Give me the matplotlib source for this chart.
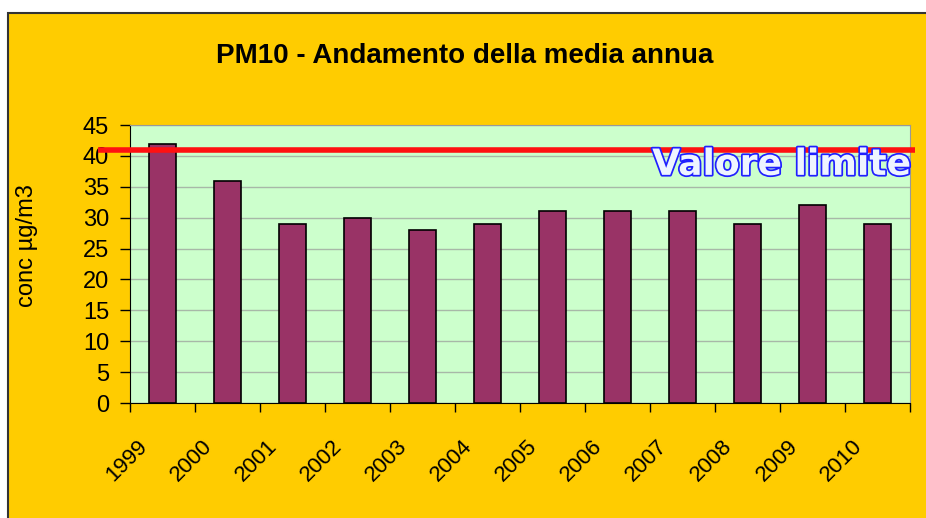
import matplotlib
matplotlib.use("Agg")
import matplotlib.pyplot as plt
import matplotlib.patheffects as pe
from matplotlib.patches import Rectangle
from matplotlib.transforms import ScaledTranslation
import numpy as np

plt.rcParams['font.family'] = ['Liberation Sans', 'DejaVu Sans']

years = ['1999', '2000', '2001', '2002', '2003', '2004',
         '2005', '2006', '2007', '2008', '2009', '2010']
media = [42, 36, 29, 30, 28, 29, 31, 31, 31, 29, 32, 29]
limite = 41

fig = plt.figure(figsize=(9.26, 5.18), dpi=100)
fig.patch.set_facecolor('white')

# orange chart area with dark frame
fig.patches.append(Rectangle((8 / 926, -0.1), 1.2, 1.1 - 13 / 518,
                             transform=fig.transFigure, facecolor='#FFCC00',
                             edgecolor='#333333', linewidth=1.5, zorder=-5))

ax = fig.add_axes([130 / 926, 1 - 403 / 518, 780 / 926, 278 / 518])
ax.set_zorder(2)
ax.set_facecolor('#CCFFCC')

x = np.arange(len(years))
ax.bar(x, media, width=0.42, color='#993366', edgecolor='black',
       linewidth=1.2, zorder=3)

ax.set_xlim(-0.5, len(years) - 0.5)
ax.set_ylim(0, 45)
ax.set_yticks(range(0, 46, 5))
ax.yaxis.grid(True, color='#A8B8A8', linewidth=1, zorder=0)
ax.set_axisbelow(True)
ax.tick_params(axis='y', labelsize=17, length=7, width=1, pad=8)

# tick marks between categories, labels at categories
ax.set_xticks(np.arange(-0.5, len(years), 1), minor=True)
ax.set_xticks(x)
ax.set_xticklabels(years, rotation=45, ha='right', va='center',
                   rotation_mode='anchor', fontsize=16)
ax.tick_params(axis='x', which='major', length=0, pad=0)
ax.tick_params(axis='x', which='minor', length=6.5, width=1)
off = ScaledTranslation(-13 / 72, -29 / 72, fig.dpi_scale_trans)
for lab in ax.get_xticklabels():
    lab.set_transform(lab.get_transform() + off)

for s in ['top', 'right']:
    ax.spines[s].set_color('#999999')
for s in ['left', 'bottom']:
    ax.spines[s].set_color('black')

ax.set_ylabel('conc µg/m3', fontsize=17)
ax.yaxis.set_label_coords(-92 / 780, 0.568)

# limit line, running past the axes
ax.plot([-1.0, len(years) - 0.42], [limite, limite], color='#FF1111',
        linewidth=4, clip_on=False, zorder=5, solid_capstyle='butt')
ax.text(len(years) - 0.48, limite + 0.3, 'Valore limite', ha='right', va='top',
        fontsize=26, fontweight='bold', family='DejaVu Sans',
        color='#EEF4FF', zorder=6,
        path_effects=[pe.withStroke(linewidth=2.5, foreground='#2020FF')])

fig.text(465 / 926, 1 - 63 / 518, 'PM10 - Andamento della media annua',
         ha='center', va='baseline', fontsize=20, fontweight='bold')

fig.savefig('out.png', dpi=100)
